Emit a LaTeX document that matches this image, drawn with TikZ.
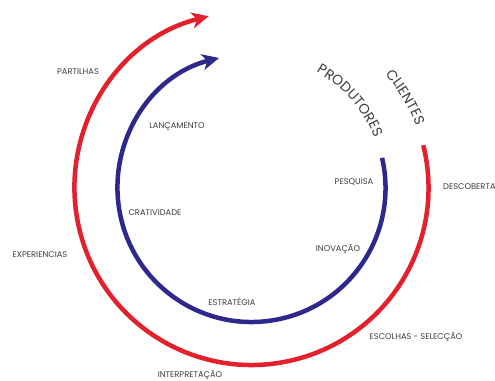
\documentclass[tikz,border=0pt]{standalone}
\usepackage{fontspec}
\setmainfont{Poppins}
\usetikzlibrary{arrows.meta,decorations.text}
\definecolor{cycred}{RGB}{228,32,44}
\definecolor{cycblue}{RGB}{46,40,140}
\definecolor{labelgray}{RGB}{60,60,60}
\begin{document}
\begin{tikzpicture}[x=1pt,y=1pt,
  ring/.style={line width=4.5pt, -{Stealth[length=17pt,width=16pt,inset=5pt]}},
  lbl/.style={text=labelgray, font=\fontsize{8.3}{9}\selectfont, inner sep=0pt},
]
\useasboundingbox (0,0) rectangle (495,380);
\coordinate (c) at (251.5,192);
% outer cycle (clients) and inner cycle (producers)
\draw[ring, cycred] (c) ++(14:177) arc[start angle=14, end angle=-256, radius=177];
\draw[ring, cycblue] (c) ++(13:134) arc[start angle=13, end angle=-256, radius=134];
% curved titles
\path[decorate, decoration={text along path, text align=center,
  text={|\fontsize{14}{14}\selectfont\color{labelgray}|PRODUTORES}}]
  (c) ++(63:133) arc[start angle=63, end angle=20, radius=133];
\path[decorate, decoration={text along path, text align=center,
  text={|\fontsize{14}{14}\selectfont\color{labelgray}|CLIENTES}}]
  (c) ++(42:176) arc[start angle=42, end angle=19, radius=176];
% stage labels
\node[lbl] (partilhas) at (78,308) {PARTILHAS};
\node[lbl] (lancamento) at (177,253) {LANÇAMENTO};
\node[lbl] (pesquisa) at (354,198) {PESQUISA};
\node[lbl, anchor=west] (descoberta) at (443,193) {DESCOBERTA};
\node[lbl] (criatividade) at (155,167) {CRATIVIDADE};
\node[lbl] (experiencias) at (40,125) {EXPERIENCIAS};
\node[lbl] (estrategia) at (232,78) {ESTRATÉGIA};
\node[lbl] (interpretacao) at (190,5) {INTERPRETAÇÃO};
\node[lbl] (inovacao) at (338,131) {INOVAÇÃO};
\node[lbl] (escolhas) at (416,43) {ESCOLHAS - SELECÇÃO};
\end{tikzpicture}
\end{document}
